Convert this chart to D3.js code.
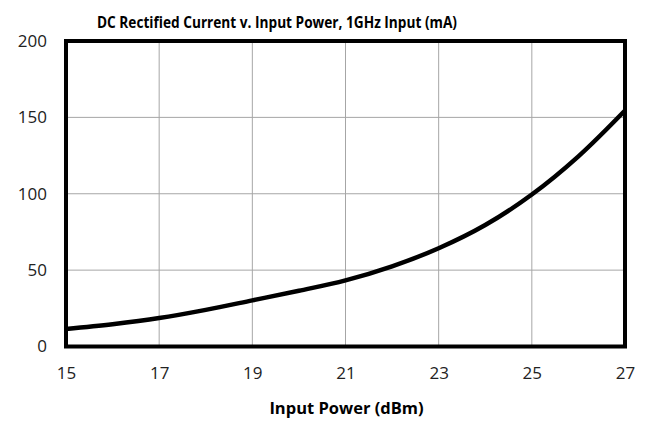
<!DOCTYPE html>
<html><head><meta charset="utf-8">
<script src="https://cdn.jsdelivr.net/npm/d3@7"></script>
<style>body{margin:0;background:#fff;} svg{display:block;}</style>
</head><body>
<svg id="c" width="647" height="421"></svg>
<script>
const inputPower = [15,16,17,18,19,20,21,22,23,24,25,26,27];
const currentMA = [11.5,14.6,18.6,24,30.2,36.5,43.3,52.5,64.3,79.5,99.5,124.5,154.5];
const xTicks = [15,17,19,21,23,25,27];
const yTicks = [0,50,100,150,200];
const title = "DC Rectified Current v. Input Power, 1GHz Input (mA)";
const xTitle = "Input Power (dBm)";

const svg = d3.select("#c");
const m = {l:66, r:625, t:41, b:346.5};
const x = d3.scaleLinear().domain([15,27]).range([m.l,m.r]);
const y = d3.scaleLinear().domain([0,200]).range([m.b,m.t]);
const font = "'Open Sans', sans-serif";

// grid
svg.append("g").selectAll("line.v").data(xTicks.slice(1,-1)).join("line")
  .attr("x1",d=>x(d)).attr("x2",d=>x(d)).attr("y1",m.t).attr("y2",m.b)
  .attr("stroke","#a6a6a6").attr("stroke-width",1);
svg.append("g").selectAll("line.h").data(yTicks.slice(1,-1)).join("line")
  .attr("y1",d=>y(d)).attr("y2",d=>y(d)).attr("x1",m.l).attr("x2",m.r)
  .attr("stroke","#a6a6a6").attr("stroke-width",1);

// axes (labels only)
const xa = svg.append("g").attr("transform",`translate(0,${m.b})`)
  .call(d3.axisBottom(x).tickValues(xTicks).tickSize(0).tickPadding(20));
xa.select(".domain").remove();
xa.selectAll("text").attr("font-family",font).attr("font-size",17).attr("fill","#222");
const ya = svg.append("g").attr("transform",`translate(${m.l},0)`)
  .call(d3.axisLeft(y).tickValues(yTicks).tickSize(0).tickPadding(19));
ya.select(".domain").remove();
ya.selectAll("text").attr("font-family",font).attr("font-size",17).attr("fill","#222");

// line
const line = d3.line().x((d,i)=>x(inputPower[i])).y(d=>y(d)).curve(d3.curveCatmullRom.alpha(0.5));
svg.append("path").datum(currentMA).attr("d",line)
  .attr("fill","none").attr("stroke","#000").attr("stroke-width",4.5);

// border
svg.append("rect").attr("x",m.l).attr("y",m.t).attr("width",m.r-m.l).attr("height",m.b-m.t)
  .attr("fill","none").attr("stroke","#000").attr("stroke-width",4);

svg.append("text").attr("x",277).attr("y",28).attr("text-anchor","middle")
  .attr("font-family",font).attr("font-weight","bold").attr("font-size",16)
  .attr("textLength",360).attr("lengthAdjust","spacingAndGlyphs").text(title);
svg.append("text").attr("x",346.5).attr("y",414).attr("text-anchor","middle")
  .attr("font-family",font).attr("font-weight","bold").attr("font-size",16.5).text(xTitle);
</script>
</body></html>
